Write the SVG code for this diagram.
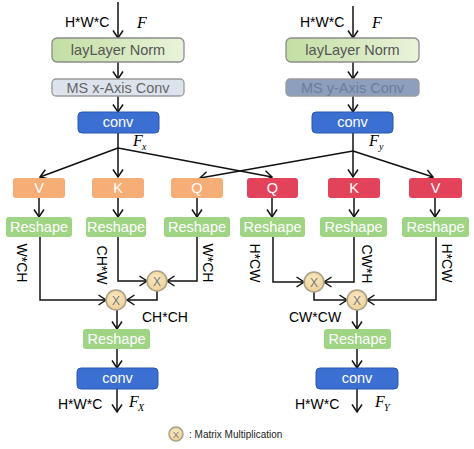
<svg xmlns="http://www.w3.org/2000/svg" width="474" height="449" viewBox="0 0 474 449">
<defs>
<linearGradient id="gNorm" x1="0" y1="0" x2="1" y2="0">
<stop offset="0" stop-color="#c3dea3"/><stop offset="1" stop-color="#e9f3da"/>
</linearGradient>
<radialGradient id="gMul" cx="0.45" cy="0.4" r="0.6">
<stop offset="0" stop-color="#fbebc6"/><stop offset="1" stop-color="#edcf95"/>
</radialGradient>
<marker id="arr" markerUnits="userSpaceOnUse" markerWidth="14" markerHeight="14" viewBox="-9 -7 11 14" refX="0" refY="0" orient="auto">
<path d="M-7.5,-5 L0,0 L-7.5,5" fill="none" stroke="#111" stroke-width="1.5"/>
</marker>
<style>
.t{font-family:"Liberation Sans",Arial,sans-serif;font-size:14px}
.c{text-anchor:middle}
.w{fill:#fff}
.b{font-size:14.5px}
.norm{fill:url(#gNorm);stroke:#8c8c8c;stroke-width:1.3}
.msx{fill:#dde3ec;stroke:#9a9a9a;stroke-width:1.3}
.msy{fill:#8d9fbc;stroke:#9a9a9a;stroke-width:1.3}
.conv{fill:#3b6fd2;stroke:#2b57b0;stroke-width:1}
.org{fill:#f7ad76}
.red{fill:#e2435a}
.rsh{fill:#9fd485}
.mul{fill:url(#gMul);stroke:#a9a089;stroke-width:1.5}
.mx{font-family:"Liberation Sans",Arial,sans-serif;font-size:12px;fill:#777;text-anchor:middle}
.f{font-family:"Liberation Serif","Times New Roman",serif;font-style:italic;font-size:16px}
.fs{font-family:"Liberation Serif","Times New Roman",serif;font-style:italic;font-size:10px}
.ln{fill:none;stroke:#111;stroke-width:1.5}
</style>
</defs>

<g id="connectors" class="ln">
<path d="M118,2 V38" marker-end="url(#arr)"/>
<path d="M118,62 V79" marker-end="url(#arr)"/>
<path d="M118,96 V112" marker-end="url(#arr)"/>
<path d="M118,133 V148"/>
<path d="M118,148 L40,177" marker-end="url(#arr)"/>
<path d="M118,148 V177" marker-end="url(#arr)"/>
<path d="M118,148 L272,177" marker-end="url(#arr)"/>
<path d="M353,6 V38" marker-end="url(#arr)"/>
<path d="M353,62 V79" marker-end="url(#arr)"/>
<path d="M353,96 V112" marker-end="url(#arr)"/>
<path d="M353,133 V151"/>
<path d="M353,151 L200,178" marker-end="url(#arr)"/>
<path d="M353,151 V177" marker-end="url(#arr)"/>
<path d="M353,151 L433,177" marker-end="url(#arr)"/>
<path d="M39,198 V217" marker-end="url(#arr)"/>
<path d="M118,198 V217" marker-end="url(#arr)"/>
<path d="M197,198 V217" marker-end="url(#arr)"/>
<path d="M272,198 V217" marker-end="url(#arr)"/>
<path d="M354,198 V217" marker-end="url(#arr)"/>
<path d="M435,198 V217" marker-end="url(#arr)"/>
<path d="M40,237 V300 H106" marker-end="url(#arr)"/>
<path d="M118,237 V281 H147" marker-end="url(#arr)"/>
<path d="M197,237 V281 H167" marker-end="url(#arr)"/>
<path d="M157,291 V300 H127" marker-end="url(#arr)"/>
<path d="M117,310 V329" marker-end="url(#arr)"/>
<path d="M117,349 V368" marker-end="url(#arr)"/>
<path d="M117,389 V412" marker-end="url(#arr)"/>
<path d="M273,237 V282 H304" marker-end="url(#arr)"/>
<path d="M354,237 V282 H324" marker-end="url(#arr)"/>
<path d="M314,292 V300 H347" marker-end="url(#arr)"/>
<path d="M436,237 V300 H367" marker-end="url(#arr)"/>
<path d="M357,310 V329" marker-end="url(#arr)"/>
<path d="M357,349 V368" marker-end="url(#arr)"/>
<path d="M357,389 V412" marker-end="url(#arr)"/>
</g>

<g id="normL"><rect class="norm" x="52" y="38" width="132" height="24" rx="5"/><text class="t c b" x="118" y="55" fill="#555">layLayer Norm</text></g>
<g id="msx"><rect class="msx" x="52" y="79" width="132" height="17" rx="4"/><text class="t c b" x="118" y="93" fill="#666">MS x-Axis Conv</text></g>
<g id="convL"><rect class="conv" x="78" y="112" width="81" height="21" rx="4"/><text class="t c w b" x="118" y="127">conv</text></g>

<g id="vL"><rect class="org" x="13" y="178" width="52" height="20" rx="3"/><text class="t c w b" x="39" y="193">V</text></g>
<g id="kL"><rect class="org" x="92" y="178" width="52" height="20" rx="3"/><text class="t c w b" x="118" y="193">K</text></g>
<g id="qL"><rect class="org" x="171" y="178" width="52" height="20" rx="3"/><text class="t c w b" x="197" y="193">Q</text></g>

<g id="rsL1"><rect class="rsh" x="6" y="217" width="66" height="20" rx="3"/><text class="t c w b" x="39" y="232">Reshape</text></g>
<g id="rsL2"><rect class="rsh" x="86" y="217" width="60" height="20" rx="3"/><text class="t c w b" x="116" y="232">Reshape</text></g>
<g id="rsL3"><rect class="rsh" x="164" y="217" width="66" height="20" rx="3"/><text class="t c w b" x="197" y="232">Reshape</text></g>

<g id="mulL1"><circle class="mul" cx="157" cy="281" r="10"/><text class="mx" x="157" y="285.5">X</text></g>
<g id="mulL2"><circle class="mul" cx="116" cy="300" r="10"/><text class="mx" x="116" y="304.5">X</text></g>

<g id="rsL4"><rect class="rsh" x="83" y="329" width="67" height="20" rx="3"/><text class="t c w b" x="116.5" y="344">Reshape</text></g>
<g id="convL2"><rect class="conv" x="77" y="368" width="81" height="21" rx="4"/><text class="t c w b" x="117.5" y="383">conv</text></g>

<g id="normR"><rect class="norm" x="286" y="38" width="133" height="24" rx="5"/><text class="t c b" x="352.5" y="55" fill="#555">layLayer Norm</text></g>
<g id="msy"><rect class="msy" x="286" y="79" width="133" height="17" rx="4"/><text class="t c b" x="352.5" y="93" fill="#6a7d9c">MS y-Axis Conv</text></g>
<g id="convR"><rect class="conv" x="312" y="112" width="81" height="21" rx="4"/><text class="t c w b" x="352.5" y="127">conv</text></g>

<g id="qR"><rect class="red" x="247" y="178" width="51" height="20" rx="3"/><text class="t c w b" x="272.5" y="193">Q</text></g>
<g id="kR"><rect class="red" x="328" y="178" width="52" height="20" rx="3"/><text class="t c w b" x="354" y="193">K</text></g>
<g id="vR"><rect class="red" x="409" y="178" width="53" height="20" rx="3"/><text class="t c w b" x="435.5" y="193">V</text></g>

<g id="rsR1"><rect class="rsh" x="240" y="217" width="65" height="20" rx="3"/><text class="t c w b" x="272.5" y="232">Reshape</text></g>
<g id="rsR2"><rect class="rsh" x="320" y="217" width="67" height="20" rx="3"/><text class="t c w b" x="353.5" y="232">Reshape</text></g>
<g id="rsR3"><rect class="rsh" x="402" y="217" width="67" height="20" rx="3"/><text class="t c w b" x="435.5" y="232">Reshape</text></g>

<g id="mulR1"><circle class="mul" cx="314" cy="282" r="10"/><text class="mx" x="314" y="286.5">X</text></g>
<g id="mulR2"><circle class="mul" cx="357" cy="300" r="10"/><text class="mx" x="357" y="304.5">X</text></g>

<g id="rsR4"><rect class="rsh" x="324" y="329" width="67" height="20" rx="3"/><text class="t c w b" x="357.5" y="344">Reshape</text></g>
<g id="convR2"><rect class="conv" x="316" y="368" width="82" height="21" rx="4"/><text class="t c w b" x="357" y="383">conv</text></g>

<g id="labels" class="t">
<text x="65" y="27">H*W*C</text>
<text x="300" y="27">H*W*C</text>
<text x="58" y="409">H*W*C</text>
<text x="295" y="409">H*W*C</text>
<text x="142" y="322">CH*CH</text>
<text x="289" y="322">CW*CW</text>
<text class="c" transform="translate(17,263) rotate(90)">W*CH</text>
<text class="c" transform="translate(97,265) rotate(90)">CH*W</text>
<text class="c" transform="translate(203,263) rotate(90)">W*CH</text>
<text class="c" transform="translate(250,263) rotate(90)">H*CW</text>
<text class="c" transform="translate(362,264) rotate(90)">CW*H</text>
<text class="c" transform="translate(442,263) rotate(90)">H*CW</text>
</g>
<g id="flabels">
<text class="f" x="137" y="28">F</text>
<text class="f" x="372" y="28">F</text>
<text class="f" x="133" y="146">F</text><text class="fs" x="142" y="150">x</text>
<text class="f" x="369" y="146">F</text><text class="fs" x="379" y="150">y</text>
<text class="f" x="129" y="407">F</text><text class="fs" x="138" y="411">X</text>
<text class="f" x="375" y="407">F</text><text class="fs" x="384" y="411">Y</text>
</g>

<g id="legend">
<circle class="mul" cx="176" cy="434" r="7" stroke-width="1.2"/>
<text class="mx" x="176" y="437.5" style="font-size:9.5px">X</text>
<text x="189" y="437.5" style="font-family:'Liberation Sans',Arial,sans-serif;font-size:10px" fill="#222">:  Matrix Multiplication</text>
</g>
</svg>
